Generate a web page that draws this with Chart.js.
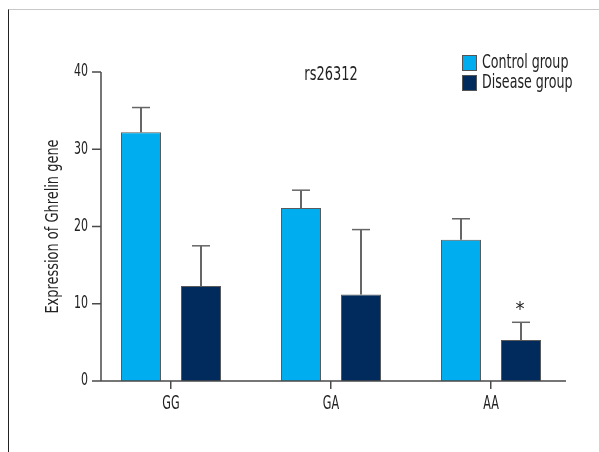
<!DOCTYPE html>
<html>
<head>
<meta charset="utf-8">
<script src="https://cdn.jsdelivr.net/npm/chart.js@4"></script>
<style>
    body { margin: 0; background: #fff; }
    #wrap { position: relative; width: 599px; height: 452px; overflow: hidden; }
    #frame { position: absolute; left: 8px; top: 9px; right: -2px; bottom: -2px; border-top: 1px solid #c8c8c8; border-left: 1px solid #222; }
    #chart1 { position: absolute; left: 0; top: 0; }
</style>
</head>
<body>
<div id="wrap">
    <div id="frame"></div>
    <canvas id="chart1" width="599" height="452"></canvas>
</div>
<script>
const chart1div = document.getElementById("chart1")

const FONT = "'Liberation Sans Narrow', 'DejaVu Sans Condensed', 'Roboto Condensed', 'Liberation Sans', sans-serif"
const TEXT = "#222"

const genotypes = ["GG", "GA", "AA"]
const controlValues = [32.2, 22.4, 18.3]
const controlErrors = [3.2, 2.3, 2.7]
const diseaseValues = [12.3, 11.2, 5.3]
const diseaseErrors = [5.2, 8.4, 2.3]
const diseaseMarks = ["", "", "*"]
const yTicks = [0, 10, 20, 30, 40]
const chartTitle = "rs26312"
const yTitle = "Expression of Ghrelin gene"

// condensed text: the original face is much narrower than anything installed
function squeeze(ctx, text, x, y, size, sx, align, rotate) {
    ctx.save()
    ctx.translate(x, y)
    if (rotate) ctx.rotate(-Math.PI / 2)
    ctx.scale(sx, 1)
    ctx.font = size + "px " + FONT
    ctx.fillStyle = TEXT
    ctx.textAlign = align
    ctx.textBaseline = "middle"
    ctx.fillText(text, 0, 0)
    ctx.restore()
}

// error bars, significance stars, axis lines, labels and legend
const extras = {
    id: "extras",
    afterDatasetsDraw(chart) {
        const ctx = chart.ctx
        const x = chart.scales.x
        const y = chart.scales.y
        const area = chart.chartArea
        const errs = [controlErrors, diseaseErrors]
        const marks = [null, diseaseMarks]

        chart.data.datasets.forEach((ds, di) => {
            const meta = chart.getDatasetMeta(di)
            meta.data.forEach((bar, i) => {
                const top = y.getPixelForValue(ds.data[i])
                const errTop = y.getPixelForValue(ds.data[i] + errs[di][i])
                ctx.save()
                ctx.strokeStyle = "#333"
                ctx.lineWidth = 1.5
                ctx.beginPath()
                ctx.moveTo(bar.x, top)
                ctx.lineTo(bar.x, errTop)
                ctx.stroke()
                ctx.strokeStyle = "#666"
                ctx.beginPath()
                ctx.moveTo(bar.x - 9, errTop)
                ctx.lineTo(bar.x + 9, errTop)
                ctx.stroke()
                ctx.restore()
                if (marks[di] && marks[di][i]) {
                    squeeze(ctx, marks[di][i], bar.x - 1, errTop - 12, 20, 1, "center")
                }
            })
        })

        // axes
        const axisX = 101
        const bottom = y.getPixelForValue(0)
        ctx.save()
        ctx.strokeStyle = "#4a4a4a"
        ctx.lineWidth = 1.5
        ctx.beginPath()
        ctx.moveTo(axisX, y.getPixelForValue(40))
        ctx.lineTo(axisX, bottom)
        ctx.moveTo(92, bottom)
        ctx.lineTo(566, bottom)
        yTicks.forEach(t => {
            const py = y.getPixelForValue(t)
            ctx.moveTo(92, py)
            ctx.lineTo(axisX, py)
        })
        ctx.stroke()
        ctx.restore()

        // tick labels
        yTicks.forEach(t => {
            squeeze(ctx, String(t), 88, y.getPixelForValue(t), 17, 0.72, "right")
        })
        genotypes.forEach((g, i) => {
            squeeze(ctx, g, x.getPixelForTick(i), 404, 20, 0.62, "center")
        })

        // titles
        squeeze(ctx, chartTitle, (area.left + area.right) / 2, 75, 20, 0.72, "center")
        squeeze(ctx, yTitle, 53, (area.top + area.bottom) / 2, 18, 0.8, "center", true)

        // legend
        chart.data.datasets.forEach((ds, di) => {
            const by = 55 + di * 20
            ctx.save()
            ctx.fillStyle = ds.backgroundColor
            ctx.fillRect(462, by, 15, 16)
            ctx.strokeStyle = "#555"
            ctx.lineWidth = 1
            ctx.strokeRect(462.5, by + 0.5, 14, 15)
            ctx.restore()
            squeeze(ctx, ds.label, 482, by + 8, 19, 0.74, "left")
        })
    }
}

new Chart(chart1div, {
    type: "bar",
    data: {
        labels: genotypes,
        datasets: [
            {
                label: "Control group",
                data: controlValues,
                backgroundColor: "#00AEEF",
                borderColor: "#5a5a5a",
                borderWidth: 1,
                categoryPercentage: 0.75,
                barPercentage: 0.667
            },
            {
                label: "Disease group",
                data: diseaseValues,
                backgroundColor: "#002B5C",
                borderColor: "#5a5a5a",
                borderWidth: 1,
                categoryPercentage: 0.75,
                barPercentage: 0.667
            }
        ]
    },
    options: {
        responsive: false,
        animation: false,
        devicePixelRatio: 1,
        layout: { padding: { left: 0, right: 28, top: 72, bottom: 0 } },
        plugins: {
            legend: { display: false },
            tooltip: { enabled: false }
        },
        scales: {
            x: {
                afterFit: s => { s.height = 71 },
                border: { display: false },
                grid: { display: true, drawOnChartArea: false, drawTicks: true, tickLength: 8, offset: false, color: "#4a4a4a", lineWidth: 1.5 },
                ticks: { display: false }
            },
            y: {
                min: 0,
                max: 40,
                afterFit: s => { s.width = 91 },
                afterBuildTicks: s => { s.ticks = yTicks.map(v => ({ value: v })) },
                border: { display: false },
                grid: { display: false, drawTicks: false },
                ticks: { display: false }
            }
        }
    },
    plugins: [extras]
});
</script>
</body>
</html>
